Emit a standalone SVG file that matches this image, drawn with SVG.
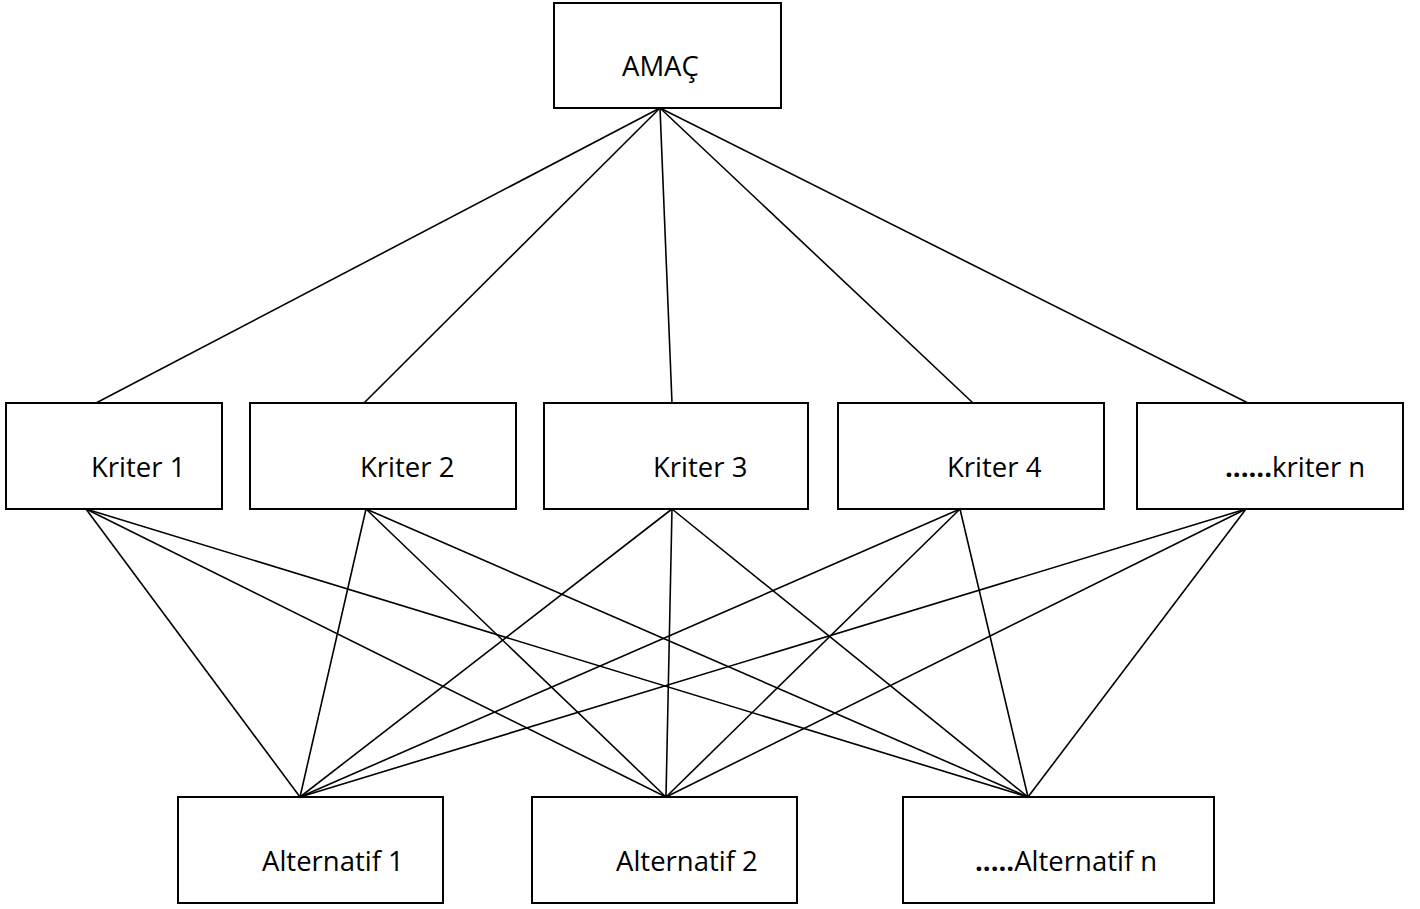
<svg xmlns="http://www.w3.org/2000/svg" width="1420" height="909" viewBox="0 0 1420 909">
<style>
.box{fill:#fff;stroke:#000;stroke-width:2}
.lbl{font-family:"Open Sans","Noto Sans","Liberation Sans",sans-serif;font-size:27.5px;fill:#000}
.b{font-weight:bold}
.c line{stroke:#000;stroke-width:1.6}
</style>
<rect width="1420" height="909" fill="#fff"/>
<g class="c" id="connectors">
<line x1="660" y1="108" x2="96" y2="403"/>
<line x1="660" y1="108" x2="364" y2="403"/>
<line x1="660" y1="108" x2="672" y2="403"/>
<line x1="660" y1="108" x2="973" y2="403"/>
<line x1="660" y1="108" x2="1248" y2="403"/>
<line x1="86" y1="509" x2="300" y2="797"/>
<line x1="86" y1="509" x2="666" y2="797"/>
<line x1="86" y1="509" x2="1028" y2="797"/>
<line x1="366" y1="509" x2="300" y2="797"/>
<line x1="366" y1="509" x2="666" y2="797"/>
<line x1="366" y1="509" x2="1028" y2="797"/>
<line x1="672" y1="509" x2="300" y2="797"/>
<line x1="672" y1="509" x2="666" y2="797"/>
<line x1="672" y1="509" x2="1028" y2="797"/>
<line x1="960" y1="509" x2="300" y2="797"/>
<line x1="960" y1="509" x2="666" y2="797"/>
<line x1="960" y1="509" x2="1028" y2="797"/>
<line x1="1246" y1="509" x2="300" y2="797"/>
<line x1="1246" y1="509" x2="666" y2="797"/>
<line x1="1246" y1="509" x2="1028" y2="797"/>
</g>
<g id="amac"><rect class="box" x="554" y="3" width="227" height="105"/><text class="lbl" x="622" y="76">AMAÇ</text></g>
<g id="kriter1"><rect class="box" x="6" y="403" width="216" height="106"/><text class="lbl" x="91" y="477">Kriter 1</text></g>
<g id="kriter2"><rect class="box" x="250" y="403" width="266" height="106"/><text class="lbl" x="360" y="477">Kriter 2</text></g>
<g id="kriter3"><rect class="box" x="544" y="403" width="264" height="106"/><text class="lbl" x="653" y="477">Kriter 3</text></g>
<g id="kriter4"><rect class="box" x="838" y="403" width="266" height="106"/><text class="lbl" x="947" y="477">Kriter 4</text></g>
<g id="kritern"><rect class="box" x="1137" y="403" width="266" height="106"/><text class="lbl" x="1225" y="477"><tspan class="b">......</tspan>kriter n</text></g>
<g id="alt1"><rect class="box" x="178" y="797" width="265" height="106"/><text class="lbl" x="262" y="871">Alternatif 1</text></g>
<g id="alt2"><rect class="box" x="532" y="797" width="265" height="106"/><text class="lbl" x="616" y="871">Alternatif 2</text></g>
<g id="altn"><rect class="box" x="903" y="797" width="311" height="106"/><text class="lbl" x="975" y="871"><tspan class="b">.....</tspan>Alternatif n</text></g>
</svg>
